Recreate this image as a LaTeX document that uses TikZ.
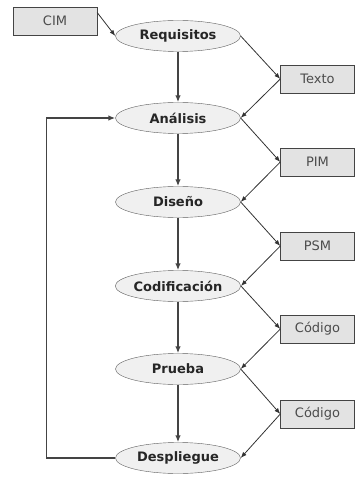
\documentclass[tikz,border=0pt]{standalone}
\usepackage{fontspec}
\setmainfont{DejaVu Sans}
\usetikzlibrary{positioning}
\usetikzlibrary{arrows.meta}
\usetikzlibrary{shapes.geometric}
\definecolor{linegray}{HTML}{444444}
\definecolor{edgegray}{HTML}{5E5E5E}
\tikzset{
        phase/.style={align=center,inner sep=0pt},
        % Process phases
        phase_step/.style={phase, ellipse, draw=edgegray, fill=gray!12, text=black!85,
                minimum width=125pt, minimum height=31pt, font=\fontsize{13}{15}\selectfont\bfseries},
        % Produced models
        phase_model/.style={phase, rectangle, draw=linegray, fill=gray!22, text=black!70,
                minimum width=74pt, minimum height=28.5pt, font=\fontsize{13}{15}\selectfont},
        % Thick flow arrows
        flow_main/.style={-{Latex[length=7pt,width=5.5pt]}, draw=linegray, line width=1.6pt},
        % Thin model arrows
        flow_model/.style={-{Latex[length=6pt,width=4.5pt]}, draw=black!80, line width=0.8pt}
}
\begin{document}
\begin{tikzpicture}[x=1pt, y=-1pt]
            \useasboundingbox (0,0) rectangle (355,478);
            % phases
            \node[phase_step] (requisitos) at (178,36) {Requisitos};
            \node[phase_step] (analisis) at (178,118) {Análisis};
            \node[phase_step] (diseno) at (178,202) {Diseño};
            \node[phase_step] (codificacion) at (178,286) {Codificación};
            \node[phase_step] (prueba) at (178,369) {Prueba};
            \node[phase_step] (despliegue) at (178,458) {Despliegue};
            % models
            \node[phase_model, minimum width=84pt] (cim) at (55,21) {CIM};
            \node[phase_model] (texto) at (317.5,79) {Texto};
            \node[phase_model] (pim) at (317.5,162) {PIM};
            \node[phase_model] (psm) at (317.5,246) {PSM};
            \node[phase_model] (codigo1) at (317.5,329) {Código};
            \node[phase_model] (codigo2) at (317.5,414) {Código};
            % main flow
            \draw[flow_main] (requisitos) -- (analisis);
            \draw[flow_main] (analisis) -- (diseno);
            \draw[flow_main] (diseno) -- (codificacion);
            \draw[flow_main] (codificacion) -- (prueba);
            \draw[flow_main] (prueba) -- (despliegue);
            \draw[flow_main] (despliegue.west) -- ++(-69,0) |- (analisis.west);
            % models in and out
            \draw[flow_model] ([yshift=-6pt]cim.north east) -- (requisitos.west);
            \draw[flow_model] (requisitos.east) -- (texto.west);
            \draw[flow_model] (texto.west) -- (analisis.east);
            \draw[flow_model] (analisis.east) -- (pim.west);
            \draw[flow_model] (pim.west) -- (diseno.east);
            \draw[flow_model] (diseno.east) -- (psm.west);
            \draw[flow_model] (psm.west) -- (codificacion.east);
            \draw[flow_model] (codificacion.east) -- (codigo1.west);
            \draw[flow_model] (codigo1.west) -- (prueba.east);
            \draw[flow_model] (prueba.east) -- (codigo2.west);
            \draw[flow_model] (codigo2.west) -- (despliegue.east);
\end{tikzpicture}
\end{document}
